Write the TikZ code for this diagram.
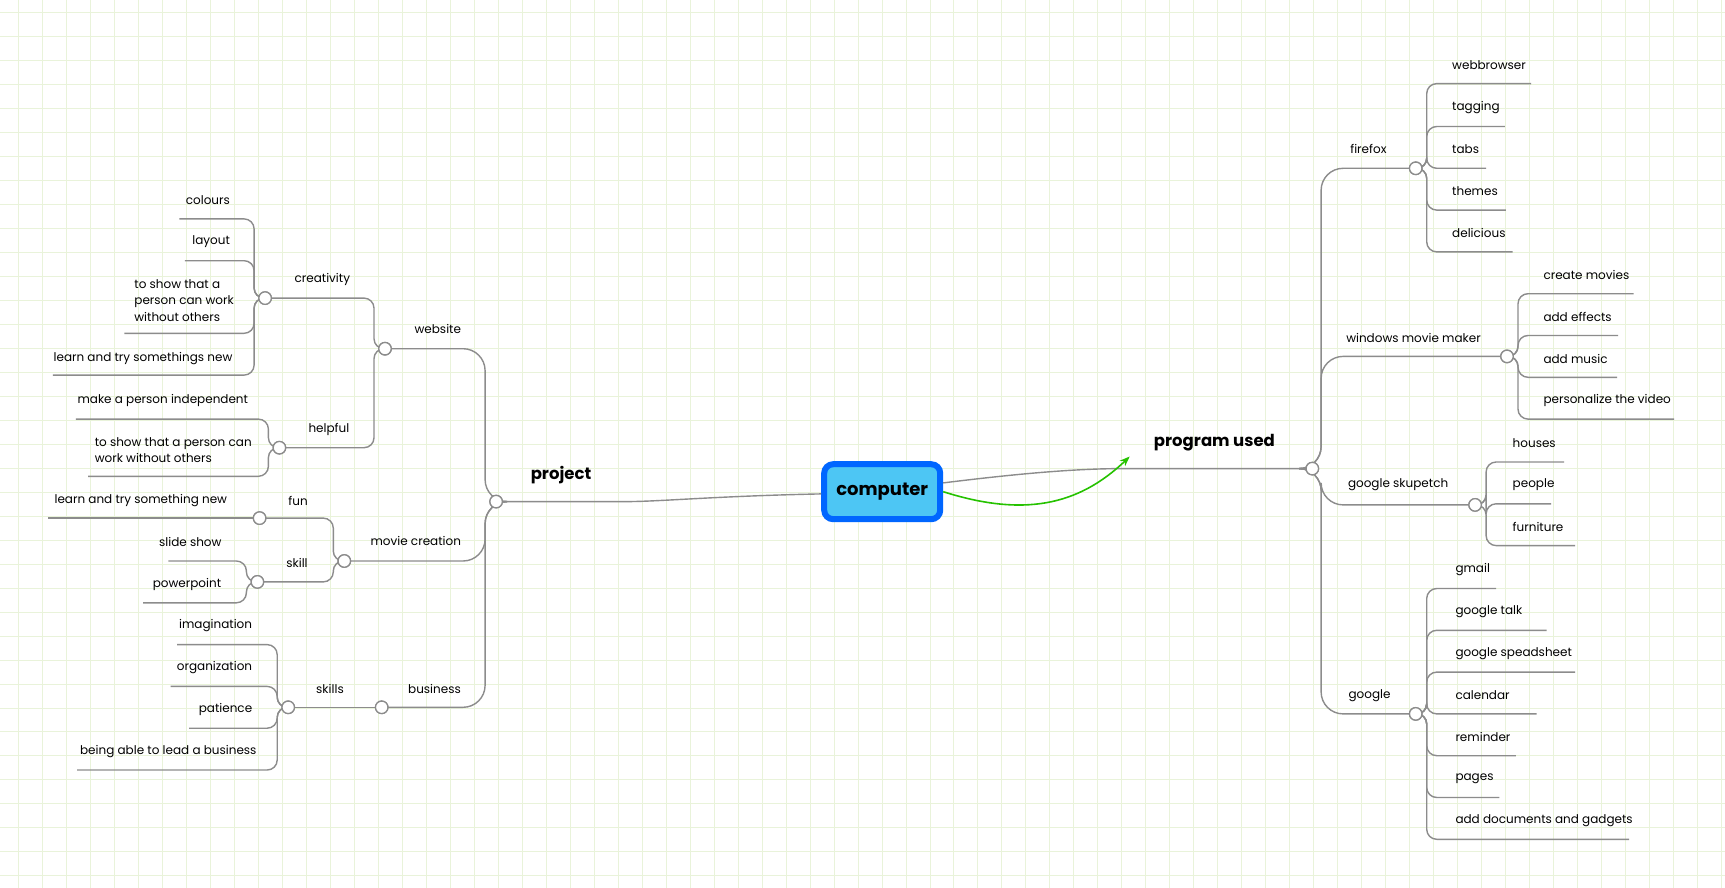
\documentclass[tikz,border=0pt]{standalone}
\usepackage{fontspec}
\setmainfont{Poppins}
\usetikzlibrary{arrows.meta}
\tikzset{
 lbl/.style={inner sep=0pt,font=\fontsize{12}{15}\selectfont},
 lw/.style={lbl,anchor=west},
 big/.style={inner sep=0pt,font=\fontsize{16.5}{19}\bfseries\selectfont},
 br/.style={draw=gray!90,line width=1.4pt,rounded corners=10pt},
 hb/.style={draw=gray!90,line width=1.4pt,rounded corners=22pt},
 dot/.style={circle,draw=gray!90,line width=1.3pt,fill=white,minimum size=12.5pt,inner sep=0pt},
}
\definecolor{gridc}{HTML}{E9F3DA}
\newcommand{\cn}[3]{\draw[br] (#1.center) -| ([xshift=#3*1.1pt]#1.center |- #2) -- (#2);}
\newcommand{\hn}[3]{\draw[hb] (#1.center) -| ([xshift=#3*1.1pt]#1.center |- #2) -- (#2);}
\begin{document}
\begin{tikzpicture}[x=1.1pt,y=-1.1pt]
\useasboundingbox (0,0) rectangle (1568.18,807.27);
\fill[white] (0,0) rectangle (1568.18,807.27);
\foreach \x in {17,38.8,...,1570} \draw[gridc,line width=0.9pt] (\x,0) -- (\x,807.27);
\foreach \y in {11.4,33.2,...,810} \draw[gridc,line width=0.9pt] (0,\y) -- (1568.18,\y);

% center
\node[draw=blue!60!cyan,line width=6pt,fill=cyan!70!white,rounded corners=9pt,minimum width=116pt,minimum height=55pt,font=\fontsize{18}{21}\bfseries\selectfont] (comp) at (802,447) {computer};

% hubs
\node[dot] (pu) at (1193,426) {};
\node[dot] (pr) at (451,456) {};
\coordinate (pue) at (1030,426);
\coordinate (pre) at (560,456);
\node[big] at (1104,402) {program used};
\node[big] at (510,432) {project};

\draw[br] (comp.east) ++(0,-8) .. controls (930,430) and (980,426) .. (pue) -- (pu.center);
\draw[br] (comp.west) ++(0,2) .. controls (650,451) and (600,456) .. (pre) -- (pr.center);
\draw[-{Stealth[length=10pt]},draw=green!70!black!80!lime,line width=1.6pt] (comp.east) .. controls (930,470) and (980,460) .. (1027,415);

% right level 1
\coordinate (ffe) at (1287,153); \coordinate (wme) at (1370,324);
\coordinate (gse) at (1341,459); \coordinate (goe) at (1287,649);
\hn{pu}{ffe}{8} \hn{pu}{wme}{8} \hn{pu}{gse}{8} \hn{pu}{goe}{8}
\node[dot] (ff) at (1287,153) {}; \node[dot] (wm) at (1370,324) {};
\node[dot] (gs) at (1341,459) {}; \node[dot] (go) at (1287,649) {};
\node[lbl] at (1244,135) {firefox};
\node[lbl] at (1285,307) {windows movie maker};
\node[lbl] at (1271,441) {google skupetch};
\node[lbl] at (1245,632) {google};

% firefox
\foreach \n/\y/\e/\t in {f1/76/1392/webbrowser,f2/115/1368/tagging,f3/153/1351/tabs,f4/191/1369/themes,f5/229/1375/delicious}{
 \coordinate (\n) at (\e,\y); \cn{ff}{\n}{10} \node[lw] at (1320,\y-17) {\t};}
\node[dot] at (ff) {};
% wmm
\foreach \n/\y/\e/\t in {w1/267/1485/create movies,w2/305/1471/add effects,w3/343/1470/add music,w4/381/1522/personalize the video}{
 \coordinate (\n) at (\e,\y); \cn{wm}{\n}{10} \node[lw] at (1403,\y-17) {\t};}
\node[dot] at (wm) {};
% skupetch
\foreach \n/\y/\e/\t in {s1/420/1422/houses,s2/458/1410/people,s3/496/1432/furniture}{
 \coordinate (\n) at (\e,\y); \cn{gs}{\n}{10} \node[lw] at (1375,\y-17) {\t};}
\node[dot] at (gs) {};
% google
\foreach \n/\y/\e/\t in {g1/535/1360/gmail,g2/573/1406/google talk,g3/611/1432/google speadsheet,g4/649/1397/calendar,g5/687/1378/reminder,g6/725/1363/pages,g7/763/1481/add documents and gadgets}{
 \coordinate (\n) at (\e,\y); \cn{go}{\n}{10} \node[lw] at (1323,\y-17) {\t};}
\node[dot] at (go) {};

% left level 1
\coordinate (wse) at (350,317); \coordinate (mce) at (313,510); \coordinate (bue) at (347,643);
\hn{pr}{wse}{-10} \hn{pr}{mce}{-10} \hn{pr}{bue}{-10}
\node[dot] (ws) at (350,317) {}; \node[dot] (mc) at (313,510) {}; \node[dot] (bu) at (347,643) {};
\node[lbl] at (398,299) {website};
\node[lbl] at (378,492) {movie creation};
\node[lbl] at (395,626) {business};

% website
\coordinate (cre) at (241,271); \coordinate (hee) at (254,407);
\cn{ws}{cre}{-10} \cn{ws}{hee}{-10}
\node[dot] (cr) at (241,271) {}; \node[dot] (he) at (254,407) {};
\node[dot] at (ws) {};
\node[lbl] at (293,254) {creativity};
\node[lbl] at (299,390) {helpful};
\coordinate (c1) at (163,199); \coordinate (c2) at (168,237); \coordinate (c3) at (113,303); \coordinate (c4) at (48,341);
\cn{cr}{c1}{-10} \cn{cr}{c2}{-10} \cn{cr}{c3}{-10} \cn{cr}{c4}{-10}
\node[dot] at (cr) {};
\node[lbl] at (189,182) {colours};
\node[lbl] at (192,220) {layout};
\node[lbl,anchor=west,align=left,font=\fontsize{12}{16.5}\selectfont] at (122,273) {to show that a\\person can work\\without others};
\node[lbl] at (130,326) {learn and try somethings new};
\coordinate (h1) at (69,381); \coordinate (h2) at (80,433);
\cn{he}{h1}{-10} \cn{he}{h2}{-10}
\node[dot] at (he) {};
\node[lbl] at (148,364) {make a person independent};
\node[lbl,anchor=west,align=left,font=\fontsize{12}{16.5}\selectfont] at (86,409) {to show that a person can\\work without others};

% movie creation
\coordinate (fne) at (236,471); \coordinate (ske) at (234,529);
\cn{mc}{fne}{-10} \cn{mc}{ske}{-10}
\node[dot] (fn) at (236,471) {}; \node[dot] (sk) at (234,529) {};
\node[dot] at (mc) {};
\node[lbl] at (271,455) {fun};
\node[lbl] at (270,512) {skill};
\coordinate (n1) at (44,471); \draw[br] (fn.center) -- (n1);
\node[dot] at (fn) {};
\node[lbl] at (128,455) {learn and try something new};
\coordinate (k1) at (153,510); \coordinate (k2) at (130,548);
\cn{sk}{k1}{-10} \cn{sk}{k2}{-10}
\node[dot] at (sk) {};
\node[lbl] at (173,493) {slide show};
\node[lbl] at (170,531) {powerpoint};

% business
\coordinate (sse) at (262,643); \draw[br] (bu.center) -- (sse);
\node[dot] (ss) at (262,643) {}; \node[dot] at (bu) {};
\node[lbl] at (300,626) {skills};
\coordinate (b1) at (161,586); \coordinate (b2) at (155,624); \coordinate (b3) at (172,662); \coordinate (b4) at (70,700);
\cn{ss}{b1}{-10} \cn{ss}{b2}{-10} \cn{ss}{b3}{-10} \cn{ss}{b4}{-10}
\node[dot] at (ss) {};
\node[lbl] at (196,569) {imagination};
\node[lbl] at (195,607) {organization};
\node[lbl] at (205,645) {patience};
\node[lbl] at (153,683) {being able to lead a business};
\node[dot] at (pu) {}; \node[dot] at (pr) {};
\end{tikzpicture}
\end{document}
